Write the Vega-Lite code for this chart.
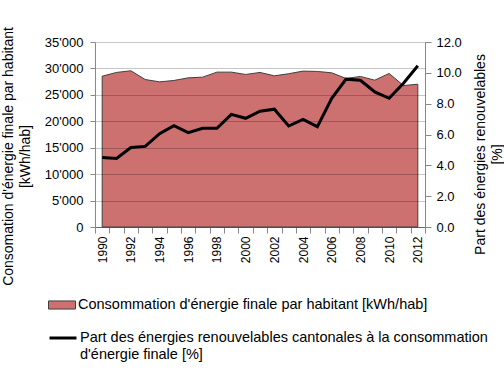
{
  "$schema": "https://vega.github.io/schema/vega-lite/v6.json",
  "width": 330,
  "height": 185,
  "autosize": {"type": "none"},
  "padding": {"left": 95, "top": 42, "right": 79, "bottom": 147},
  "background": "white",
  "config": {
    "font": "Liberation Sans",
    "view": {"stroke": null},
    "axis": {
      "labelFont": "Liberation Sans",
      "titleFont": "Liberation Sans",
      "labelColor": "black",
      "titleColor": "black",
      "labelFontSize": 12,
      "titleFontSize": 14,
      "titleLineHeight": 17,
      "titleFontWeight": "normal",
      "domainColor": "#888888",
      "tickColor": "#888888",
      "tickSize": 6
    },
    "legend": {
      "labelFont": "Liberation Sans",
      "labelFontSize": 14.5,
      "labelColor": "black",
      "labelLimit": 500
    }
  },
  "data": {
    "values": [
      {"year": "1990", "kwh": 28540, "pct": 4.51},
      {"year": "1991", "kwh": 29240, "pct": 4.45},
      {"year": "1992", "kwh": 29560, "pct": 5.16},
      {"year": "1993", "kwh": 27900, "pct": 5.23},
      {"year": "1994", "kwh": 27460, "pct": 6.05},
      {"year": "1995", "kwh": 27720, "pct": 6.57},
      {"year": "1996", "kwh": 28220, "pct": 6.12},
      {"year": "1997", "kwh": 28350, "pct": 6.40},
      {"year": "1998", "kwh": 29300, "pct": 6.40},
      {"year": "1999", "kwh": 29300, "pct": 7.31},
      {"year": "2000", "kwh": 28860, "pct": 7.05},
      {"year": "2001", "kwh": 29240, "pct": 7.51},
      {"year": "2002", "kwh": 28600, "pct": 7.64},
      {"year": "2003", "kwh": 29000, "pct": 6.55},
      {"year": "2004", "kwh": 29490, "pct": 6.98},
      {"year": "2005", "kwh": 29430, "pct": 6.51},
      {"year": "2006", "kwh": 29170, "pct": 8.35},
      {"year": "2007", "kwh": 28100, "pct": 9.59},
      {"year": "2008", "kwh": 28480, "pct": 9.52},
      {"year": "2009", "kwh": 27780, "pct": 8.76},
      {"year": "2010", "kwh": 29050, "pct": 8.35},
      {"year": "2011", "kwh": 26760, "pct": 9.33},
      {"year": "2012", "kwh": 27020, "pct": 10.46}
    ]
  },
  "encoding": {
    "x": {
      "field": "year",
      "type": "ordinal",
      "scale": {"type": "band", "paddingInner": 0, "paddingOuter": 0},
      "axis": {
        "title": null,
        "labelAngle": -90,
        "labelAlign": "right",
        "labelBaseline": "middle",
        "labelPadding": 3,
        "tickBand": "extent",
        "grid": false,
        "labelExpr": "toNumber(datum.value) % 2 == 0 ? datum.value : ''"
      }
    }
  },
  "layer": [
    {
      "mark": {"type": "area", "stroke": "#404040", "strokeWidth": 1},
      "encoding": {
        "y": {
          "field": "kwh",
          "type": "quantitative",
          "scale": {"domain": [0, 35000]},
          "axis": {
            "orient": "left",
            "values": [0, 5000, 10000, 15000, 20000, 25000, 30000, 35000],
            "labelExpr": "replace(format(datum.value, ','), ',', \"'\")",
            "labelFontSize": 13,
            "tickSize": 5,
            "labelPadding": 7,
            "title": ["Consomation d'énergie finale par habitant", "[kWh/hab]"],
            "titlePadding": 12,
            "titleY": 114,
            "grid": true,
            "gridColor": "#000000",
            "gridOpacity": 0.22,
            "zindex": 1
          }
        },
        "fill": {
          "datum": "Consommation d'énergie finale par habitant [kWh/hab]",
          "type": "nominal",
          "scale": {"range": ["#cc7070"]},
          "legend": {
            "orient": "none",
            "legendX": -47,
            "legendY": 249,
            "title": null,
            "symbolType": "M-1,-0.3H1V0.3H-1Z",
            "symbolSize": 729,
            "symbolStrokeColor": "#404040",
            "symbolStrokeWidth": 1,
            "symbolOpacity": 1,
            "labelOffset": 2
          }
        }
      }
    },
    {
      "mark": {"type": "line", "strokeWidth": 3},
      "encoding": {
        "y": {
          "field": "pct",
          "type": "quantitative",
          "scale": {"domain": [0, 12]},
          "axis": {
            "orient": "right",
            "values": [0, 2, 4, 6, 8, 10, 12],
            "format": ".1f",
            "labelFontSize": 13,
            "tickSize": 6,
            "labelPadding": 5,
            "title": ["Part des énergies renouvelables", "[%]"],
            "titleAngle": -90,
            "titlePadding": 9,
            "titleY": 112,
            "grid": false
          }
        },
        "stroke": {
          "datum": "Part des énergies renouvelables cantonales à la consommation|d'énergie finale [%]",
          "type": "nominal",
          "scale": {"range": ["#000000"]},
          "legend": {
            "orient": "none",
            "legendX": -47,
            "legendY": 281,
            "title": null,
            "symbolType": "stroke",
            "symbolSize": 729,
            "symbolStrokeWidth": 3,
            "labelOffset": 2,
            "labelExpr": "split(datum.label, '|')"
          }
        }
      }
    }
  ],
  "resolve": {"scale": {"y": "independent", "fill": "independent", "stroke": "independent"}}
}
